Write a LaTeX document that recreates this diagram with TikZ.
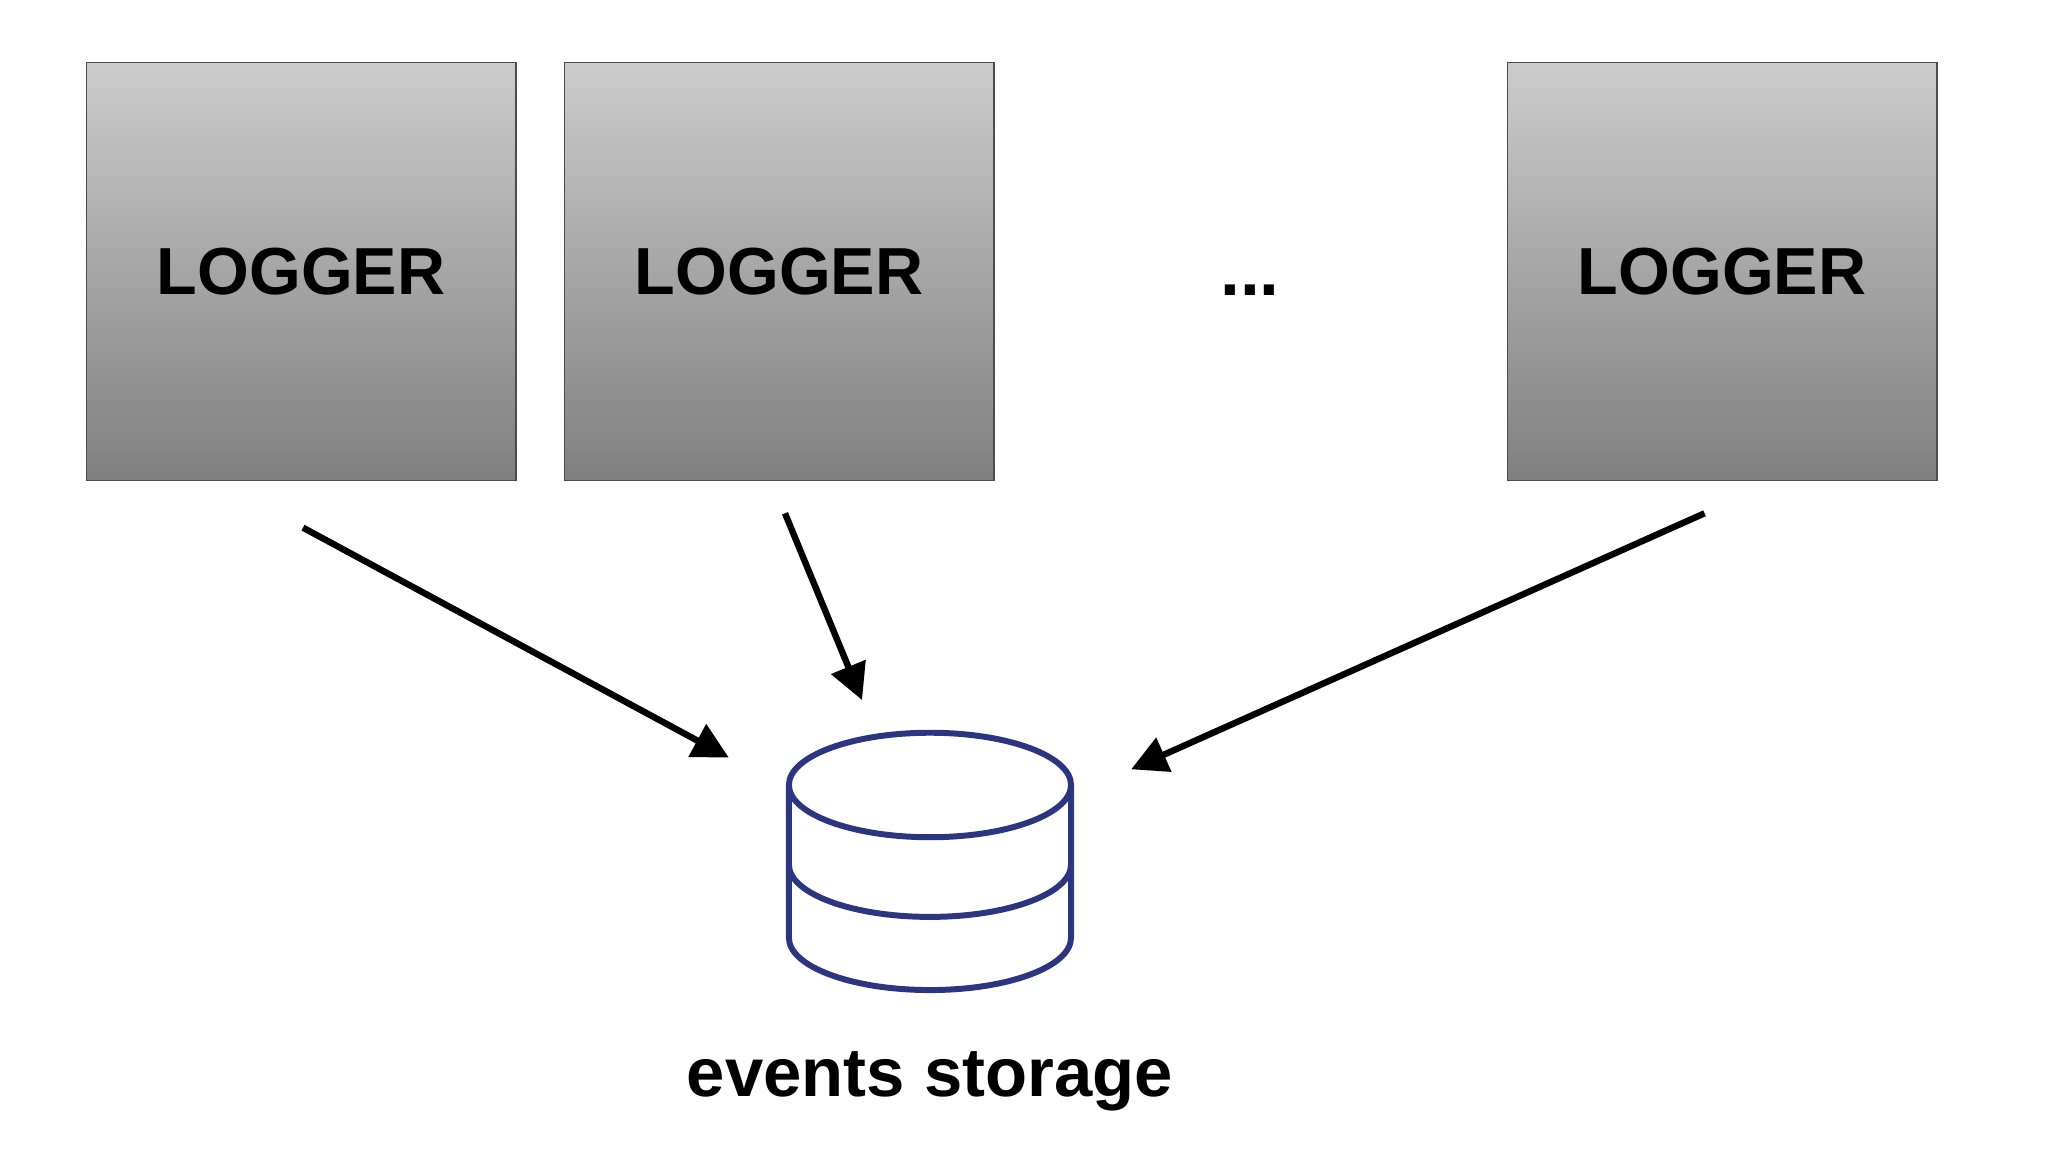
\documentclass[tikz,border=0pt]{standalone}
\usepackage{fontspec}
\setmainfont{Liberation Sans}
\usetikzlibrary{arrows.meta}
\definecolor{navy}{HTML}{2B3580}
\begin{document}
\begin{tikzpicture}[x=0.02cm,y=-0.02cm,
  logger/.style={draw=black!70,line width=0.6pt,top color=black!20,bottom color=black!50,
    minimum width=6.58cm,minimum height=6.4cm,inner sep=0pt,font=\fontsize{29}{29}\selectfont\bfseries},
  arr/.style={line width=2.8pt,-{Triangle[length=0.55cm,width=0.55cm]}},
  db/.style={draw=navy,line width=2.6pt}]
\useasboundingbox (0,0) rectangle (1568,882);
\node[logger] (l1) at (230.5,208) {LOGGER};
\node[logger] (l2) at (596.5,208) {LOGGER};
\node[logger] (l3) at (1318.5,208) {LOGGER};
\node[font=\fontsize{31}{31}\selectfont\bfseries] (dots) at (957,222) {...};
\coordinate (s1) at (232,404); \coordinate (e1) at (558,580);
\coordinate (s2) at (601,393); \coordinate (e2) at (660,536);
\coordinate (s3) at (1305,393); \coordinate (e3) at (866,589);
\draw[arr] (s1) -- (e1);
\draw[arr] (s2) -- (e2);
\draw[arr] (s3) -- (e3);
\draw[db] (712,601) ellipse [x radius=108,y radius=40];
\draw[db] (604,601) -- (604,718) arc[start angle=180,end angle=0,x radius=108,y radius=40] -- (820,601);
\draw[db] (604,662) arc[start angle=180,end angle=0,x radius=108,y radius=40];
\node[font=\fontsize{30}{30}\selectfont\bfseries] (lab) at (712,828) {events storage};
\end{tikzpicture}
\end{document}
